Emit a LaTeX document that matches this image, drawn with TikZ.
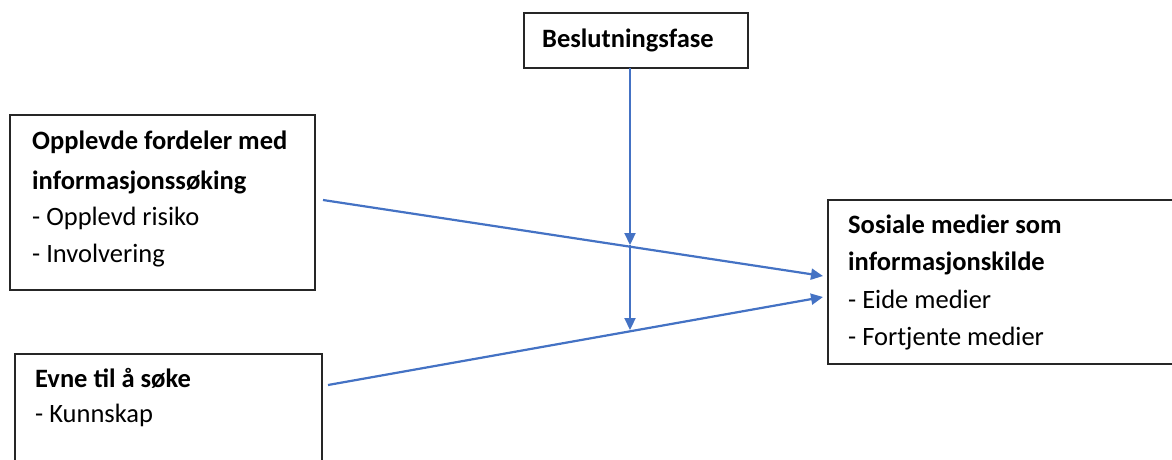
\documentclass[tikz,border=0pt]{standalone}
\usepackage{fontspec}
\setmainfont{Carlito}
\usetikzlibrary{arrows.meta}
\definecolor{linkblue}{HTML}{4472C4}
\tikzset{
  box/.style={draw=black!85, line width=2pt, fill=white, inner sep=0pt},
  head/.style={anchor=base west, inner sep=0pt, font=\fontsize{26.5}{30}\selectfont\bfseries},
  item/.style={anchor=base west, inner sep=0pt, font=\fontsize{26.5}{30}\selectfont},
  link/.style={draw=linkblue, line width=2.2pt, -{Triangle[length=12pt,width=11pt]}}
}
\begin{document}
\begin{tikzpicture}[x=1pt,y=-1pt]
\clip (0,0) rectangle (1172,459);
\fill[white] (0,0) rectangle (1172,459);

% boxes
\node[box, minimum width=224pt, minimum height=55pt] (fase) at (636,40.5) {};
\node[box, minimum width=305pt, minimum height=175pt] (fordeler) at (162.5,202.5) {};
\node[box, minimum width=307pt, minimum height=130pt] (evne) at (168.5,419) {};
\node[box, minimum width=360pt, minimum height=164pt] (sosiale) at (1008,282) {};

% labels
\node[head] (t1) at (542,47) {Beslutningsfase};
\node[head] (t2) at (32,149) {Opplevde fordeler med};
\node[head] (t3) at (32,189) {informasjonssøking};
\node[item] (t4) at (32,225) {- Opplevd risiko};
\node[item] (t5) at (32,262) {- Involvering};
\node[head] (t6) at (35,387) {Evne til å søke};
\node[item] (t7) at (35,422) {- Kunnskap};
\node[head] (t8) at (848,233) {Sosiale medier som};
\node[head] (t9) at (848,270) {informasjonskilde};
\node[item] (t10) at (848,308) {- Eide medier};
\node[item] (t11) at (848,345) {- Fortjente medier};

% connector end points
\coordinate (a1) at (323,200);
\coordinate (a2) at (823,276);
\coordinate (b1) at (328,385);
\coordinate (b2) at (823,297);
\coordinate (c0) at (630,68);
\coordinate (c1) at (630,245);
\coordinate (c2) at (630,330);

\draw[link] (a1) -- (a2);
\draw[link] (b1) -- (b2);
\draw[link] (c0) -- (c1);
\draw[link] (c1) -- (c2);
\end{tikzpicture}
\end{document}
